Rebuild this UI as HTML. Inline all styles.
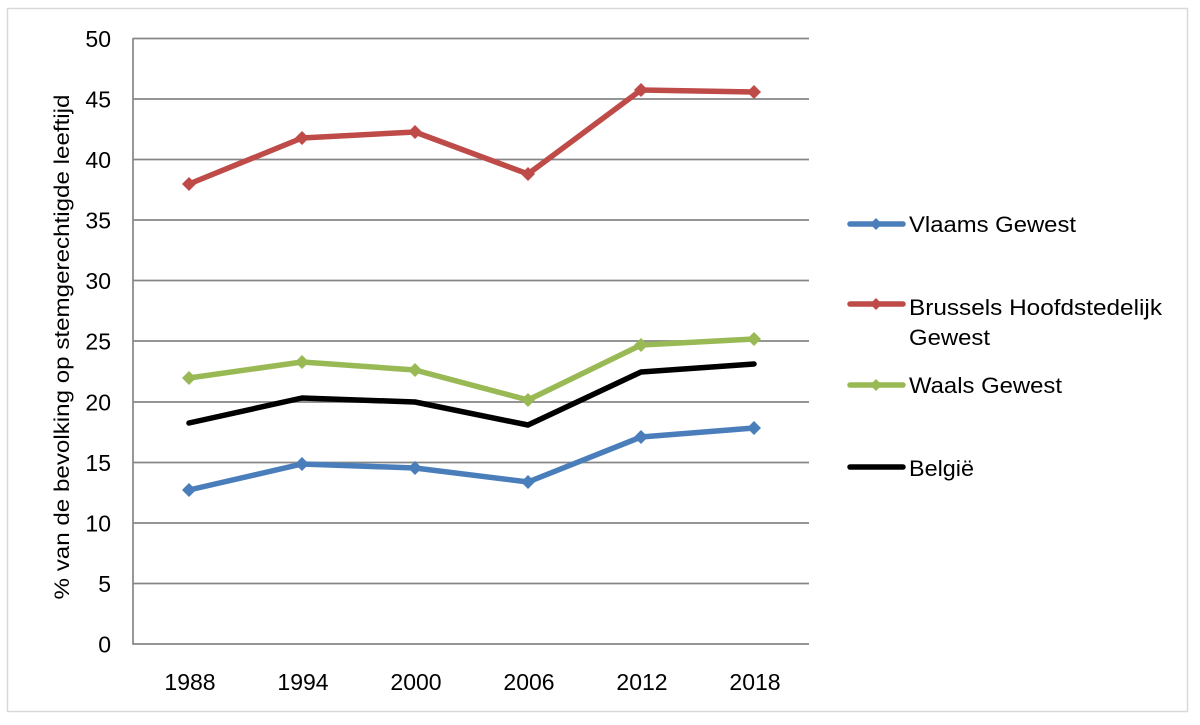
<!DOCTYPE html>
<html>
<head>
<meta charset="utf-8">
<style>
  html,body{margin:0;padding:0;background:#fff;}
  svg{display:block;}
  text{font-family:"Liberation Sans",sans-serif;fill:#000;}
</style>
</head>
<body>
<svg width="1200" height="725" viewBox="0 0 1200 725" xmlns="http://www.w3.org/2000/svg">
  <rect x="0" y="0" width="1200" height="725" fill="#fff"/>
  <rect x="7.5" y="8.5" width="1180" height="703" fill="#fff" stroke="#d9d9d9" stroke-width="1.5"/>

  <!-- gridlines -->
  <g stroke="#868686" stroke-width="1.7">
    <line x1="133" y1="38.5" x2="809" y2="38.5"/>
    <line x1="133" y1="99" x2="809" y2="99"/>
    <line x1="133" y1="159.5" x2="809" y2="159.5"/>
    <line x1="133" y1="220" x2="809" y2="220"/>
    <line x1="133" y1="280.5" x2="809" y2="280.5"/>
    <line x1="133" y1="341" x2="809" y2="341"/>
    <line x1="133" y1="402" x2="809" y2="402"/>
    <line x1="133" y1="462.5" x2="809" y2="462.5"/>
    <line x1="133" y1="523" x2="809" y2="523"/>
    <line x1="133" y1="583.5" x2="809" y2="583.5"/>
    <line x1="133" y1="644" x2="809" y2="644"/>
    <line x1="133" y1="38" x2="133" y2="644.8"/>
  </g>

  <!-- y tick labels -->
  <g font-size="23" text-anchor="end">
    <text x="111" y="47">50</text>
    <text x="111" y="107.5">45</text>
    <text x="111" y="168">40</text>
    <text x="111" y="228.5">35</text>
    <text x="111" y="289">30</text>
    <text x="111" y="349.5">25</text>
    <text x="111" y="410.5">20</text>
    <text x="111" y="471">15</text>
    <text x="111" y="531.5">10</text>
    <text x="111" y="592">5</text>
    <text x="111" y="652.5">0</text>
  </g>

  <!-- x tick labels -->
  <g font-size="23" text-anchor="middle">
    <text x="190" y="690">1988</text>
    <text x="303" y="690">1994</text>
    <text x="416" y="690">2000</text>
    <text x="529" y="690">2006</text>
    <text x="642" y="690">2012</text>
    <text x="755" y="690">2018</text>
  </g>

  <!-- y axis title -->
  <text transform="translate(69,347) rotate(-90)" font-size="21" text-anchor="middle" textLength="505" lengthAdjust="spacingAndGlyphs">% van de bevolking op stemgerechtigde leeftijd</text>

  <!-- series: Vlaams -->
  <polyline fill="none" stroke="#4a7ebb" stroke-width="5.5" stroke-linejoin="round" stroke-linecap="round"
    points="189,490 302,464 415,468 528,482 641,437 754,428"/>
  <g fill="#4a7ebb">
    <polygon points="189,483 196,490 189,497 182,490"/>
    <polygon points="302,457 309,464 302,471 295,464"/>
    <polygon points="415,461 422,468 415,475 408,468"/>
    <polygon points="528,475 535,482 528,489 521,482"/>
    <polygon points="641,430 648,437 641,444 634,437"/>
    <polygon points="754,421 761,428 754,435 747,428"/>
  </g>

  <!-- series: Brussels -->
  <polyline fill="none" stroke="#be4b48" stroke-width="5.5" stroke-linejoin="round" stroke-linecap="round"
    points="189,184 302,138 415,132 528,174 641,90 754,92"/>
  <g fill="#be4b48">
    <polygon points="189,177 196,184 189,191 182,184"/>
    <polygon points="302,131 309,138 302,145 295,138"/>
    <polygon points="415,125 422,132 415,139 408,132"/>
    <polygon points="528,167 535,174 528,181 521,174"/>
    <polygon points="641,83 648,90 641,97 634,90"/>
    <polygon points="754,85 761,92 754,99 747,92"/>
  </g>

  <!-- series: Waals -->
  <polyline fill="none" stroke="#98b954" stroke-width="5.5" stroke-linejoin="round" stroke-linecap="round"
    points="189,378 302,362 415,370 528,400 641,345 754,339"/>
  <g fill="#98b954">
    <polygon points="189,371 196,378 189,385 182,378"/>
    <polygon points="302,355 309,362 302,369 295,362"/>
    <polygon points="415,363 422,370 415,377 408,370"/>
    <polygon points="528,393 535,400 528,407 521,400"/>
    <polygon points="641,338 648,345 641,352 634,345"/>
    <polygon points="754,332 761,339 754,346 747,339"/>
  </g>

  <!-- series: België -->
  <polyline fill="none" stroke="#000" stroke-width="5.5" stroke-linejoin="round" stroke-linecap="round"
    points="189,423 302,398 415,402 528,425 641,372 754,364"/>

  <!-- legend -->
  <line x1="850" y1="224" x2="903" y2="224" stroke="#4a7ebb" stroke-width="5.5" stroke-linecap="round"/>
  <polygon points="876,218 882,224 876,230 870,224" fill="#4a7ebb"/>
  <text x="909" y="232" font-size="22" textLength="167" lengthAdjust="spacingAndGlyphs">Vlaams Gewest</text>

  <line x1="850" y1="304" x2="903" y2="304" stroke="#be4b48" stroke-width="5.5" stroke-linecap="round"/>
  <polygon points="876,298 882,304 876,310 870,304" fill="#be4b48"/>
  <text x="909" y="315" font-size="22" textLength="253" lengthAdjust="spacingAndGlyphs">Brussels Hoofdstedelijk</text>
  <text x="909" y="345" font-size="22" textLength="81" lengthAdjust="spacingAndGlyphs">Gewest</text>

  <line x1="850" y1="385" x2="903" y2="385" stroke="#98b954" stroke-width="5.5" stroke-linecap="round"/>
  <polygon points="876,379 882,385 876,391 870,385" fill="#98b954"/>
  <text x="909" y="393" font-size="22" textLength="153" lengthAdjust="spacingAndGlyphs">Waals Gewest</text>

  <line x1="850" y1="467" x2="903" y2="467" stroke="#000" stroke-width="5.5" stroke-linecap="round"/>
  <text x="909" y="476" font-size="22" textLength="65" lengthAdjust="spacingAndGlyphs">België</text>
</svg>
</body>
</html>
